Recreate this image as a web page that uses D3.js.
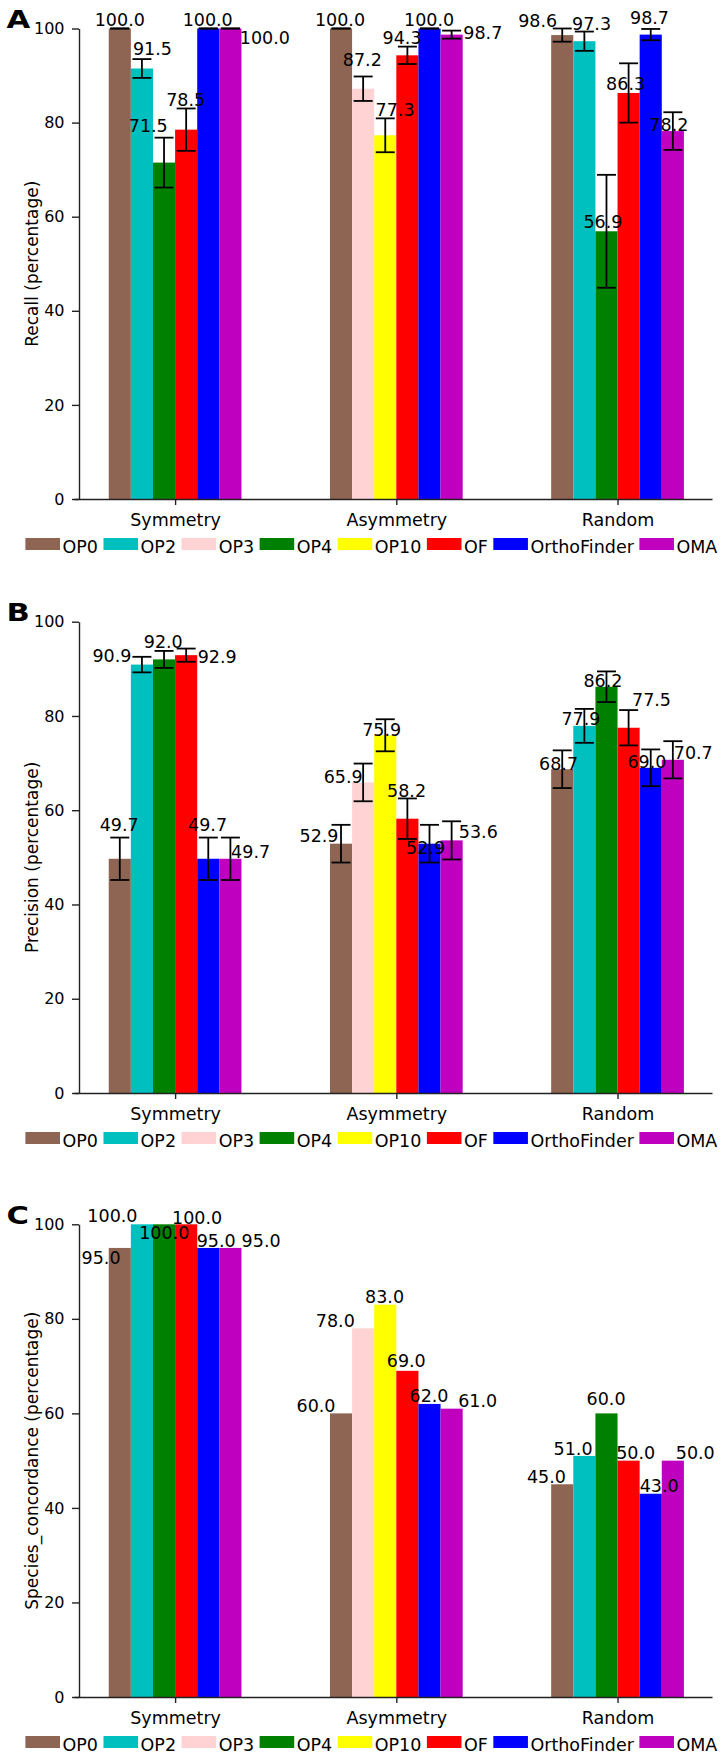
<!DOCTYPE html>
<html>
<head>
<meta charset="utf-8">
<script src="https://cdn.jsdelivr.net/npm/d3@7"></script>
<style>
  html, body { margin: 0; padding: 0; background: #fff; }
  svg { display: block; }
  text { font-family: "DejaVu Sans", Verdana, sans-serif; fill: #000; }
</style>
</head>
<body>
<svg id="chart" width="722" height="1754"></svg>
<script>
// ---------------- DATA ----------------
const categories = ["Symmetry", "Asymmetry", "Random"];
const seriesNames = ["OP0", "OP2", "OP3", "OP4", "OP10", "OF", "OrthoFinder", "OMA"];
const seriesColors = ["#8d6552", "#00bfbf", "#ffd3d3", "#008000", "#ffff00", "#ff0000", "#0000ff", "#bf00bf"];

// which series appear in each category (in drawing order)
const membersSymmetry  = ["OP0", "OP2", "OP4", "OF", "OrthoFinder", "OMA"];
const membersAsymmetry = ["OP0", "OP3", "OP10", "OF", "OrthoFinder", "OMA"];
const membersRandom    = ["OP0", "OP2", "OP4", "OF", "OrthoFinder", "OMA"];

// Panel A: Recall
const recallSymmetry  = [100.0, 91.5, 71.5, 78.5, 100.0, 100.0];
const recallAsymmetry = [100.0, 87.2, 77.3, 94.3, 100.0, 98.7];
const recallRandom    = [98.6, 97.3, 56.9, 86.3, 98.7, 78.2];
const recallErrSymmetry  = [0, 2.0, 5.3, 4.5, 0, 0];
const recallErrAsymmetry = [0, 2.6, 3.6, 1.85, 0, 0.85];
const recallErrRandom    = [1.4, 2.05, 12.0, 6.3, 1.2, 4.0];

// Panel B: Precision
const precisionSymmetry  = [49.7, 90.9, 92.0, 92.9, 49.7, 49.7];
const precisionAsymmetry = [52.9, 65.9, 75.9, 58.2, 52.9, 53.6];
const precisionRandom    = [68.7, 77.9, 86.2, 77.5, 69.0, 70.7];
const precisionErrSymmetry  = [4.5, 1.65, 1.8, 1.4, 4.5, 4.5];
const precisionErrAsymmetry = [4.0, 4.0, 3.4, 4.3, 4.0, 4.05];
const precisionErrRandom    = [4.0, 3.6, 3.25, 3.75, 3.9, 3.95];

// Panel C: Species concordance (no error bars)
const concordSymmetry  = [95.0, 100.0, 100.0, 100.0, 95.0, 95.0];
const concordAsymmetry = [60.0, 78.0, 83.0, 69.0, 62.0, 61.0];
const concordRandom    = [45.0, 51.0, 60.0, 50.0, 43.0, 50.0];

const yTicks = [0, 20, 40, 60, 80, 100];

// ---------------- LAYOUT (label nudges, px: [dx, dy] relative to bar centre / bar top) -------------
const nudgeA = [
  [[0, -2.8], [10.5, -13.5], [-15.8, -30.3], [-0.5, -23.7], [-0.6, -2.8], [34.5, 15.5]],
  [[-1, -2.8], [-0.8, -22.7], [9.8, -19.3], [-5.3, -11], [-0.4, -3], [31.2, 4.7]],
  [[-24.5, -7.8], [7.2, -11.2], [-3.5, -3], [-3, -3], [-1.2, -10.6], [-4, 0]]
];
const nudgeB = [
  [[-0.6, -28.1], [-30, -2.3], [-0.8, -11.1], [31, 7.5], [-0.7, -28.1], [20.2, -0.5]],
  [[-22, -2], [-20, 0.9], [-3.6, 0.4], [-0.8, -22], [-3.9, 10.3], [26.7, -2.1]],
  [[-3.7, 0.8], [-3.4, -0.9], [-3.5, 0], [22.9, -21.7], [-3.8, 0.5], [20.4, -0.5]]
];
const nudgeC = [
  [[-18.7, 16], [-29.5, -2.6], [0.2, 14.7], [10.9, -0.3], [7.9, -0.7], [30.7, -0.7]],
  [[-25, -1.7], [-27.8, -1.6], [-0.7, -1.4], [-1.1, -4.1], [-0.5, -1.6], [26, -1.3]],
  [[-15.8, -1], [-11.3, -0.9], [-0.4, -8.4], [7.1, -1.3], [8.5, -2], [22.4, -1.3]]
];

const panels = [
  { letter: "A", ylabel: "Recall (percentage)", top: 28.5, bottom: 499,
    values: [recallSymmetry, recallAsymmetry, recallRandom],
    errors: [recallErrSymmetry, recallErrAsymmetry, recallErrRandom], nudge: nudgeA },
  { letter: "B", ylabel: "Precision (percentage)", top: 621.7, bottom: 1093,
    values: [precisionSymmetry, precisionAsymmetry, precisionRandom],
    errors: [precisionErrSymmetry, precisionErrAsymmetry, precisionErrRandom], nudge: nudgeB },
  { letter: "C", ylabel: "Species_concordance (percentage)", top: 1224.3, bottom: 1697,
    values: [concordSymmetry, concordAsymmetry, concordRandom],
    errors: null, nudge: nudgeC }
];
const members = [membersSymmetry, membersAsymmetry, membersRandom];

// ---------------- DRAW ----------------
const svg = d3.select("#chart");
svg.append("rect").attr("width", 722).attr("height", 1754).attr("fill", "#fff");

const axisLeftX = 79;
const x = d3.scaleLinear().domain([-0.457, 2.427]).range([74, 712]);
const barW = 0.1;
const color = d3.scaleOrdinal().domain(seriesNames).range(seriesColors);
const capHalf = 9.5;

panels.forEach(p => {
  const g = svg.append("g");
  const y = d3.scaleLinear().domain([0, 100]).range([p.bottom, p.top]);

  // bars
  categories.forEach((cat, ci) => {
    const mem = members[ci];
    mem.forEach((s, j) => {
      const v = p.values[ci][j];
      const xl = x(ci + (j - mem.length / 2) * barW);
      const xr = x(ci + (j - mem.length / 2 + 1) * barW);
      g.append("rect")
        .attr("x", xl).attr("width", xr - xl)
        .attr("y", y(v)).attr("height", y(0) - y(v))
        .attr("fill", color(s));
    });
  });

  // error bars
  if (p.errors) {
    categories.forEach((cat, ci) => {
      const mem = members[ci];
      mem.forEach((s, j) => {
        const v = p.values[ci][j], e = p.errors[ci][j];
        const cx = x(ci + (j - mem.length / 2 + 0.5) * barW);
        const eg = g.append("g").attr("stroke", "#000").attr("stroke-width", 1.8);
        eg.append("line").attr("x1", cx).attr("x2", cx).attr("y1", y(v - e)).attr("y2", y(v + e));
        eg.append("line").attr("x1", cx - capHalf).attr("x2", cx + capHalf).attr("y1", y(v + e)).attr("y2", y(v + e));
        eg.append("line").attr("x1", cx - capHalf).attr("x2", cx + capHalf).attr("y1", y(v - e)).attr("y2", y(v - e));
      });
    });
  }

  // value labels
  categories.forEach((cat, ci) => {
    const mem = members[ci];
    mem.forEach((s, j) => {
      const v = p.values[ci][j];
      const cx = x(ci + (j - mem.length / 2 + 0.5) * barW);
      const [dx, dy] = p.nudge[ci][j];
      g.append("text")
        .attr("x", cx + dx).attr("y", y(v) + dy)
        .attr("text-anchor", "middle")
        .attr("font-size", 17.5)
        .text(d3.format(".1f")(v));
    });
  });

  // y axis
  const ya = g.append("g").attr("transform", `translate(${axisLeftX},0)`)
    .call(d3.axisLeft(y).tickValues(yTicks).tickFormat(d3.format("d")).tickSize(7).tickSizeOuter(0).tickPadding(7.5));
  ya.selectAll("path.domain").attr("stroke", "#222").attr("stroke-width", 1.4);
  ya.selectAll(".tick line").attr("stroke", "#222").attr("stroke-width", 1.4);
  ya.selectAll(".tick text").attr("font-size", 16).attr("font-family", "DejaVu Sans").attr("fill", "#000");

  // x axis
  const xa = g.append("g").attr("transform", `translate(0,${p.bottom})`)
    .call(d3.axisBottom(x).tickValues([0, 1, 2]).tickFormat(i => categories[i]).tickSize(6).tickSizeOuter(0));
  xa.selectAll("path.domain").attr("stroke", "#222").attr("stroke-width", 1.6);
  xa.selectAll(".tick line").attr("stroke", "#222").attr("stroke-width", 1.4);
  xa.selectAll(".tick text").attr("font-size", 17.5).attr("font-family", "DejaVu Sans")
    .attr("fill", "#000").attr("dy", null).attr("y", 27);

  // y label
  g.append("text")
    .attr("transform", `translate(37.7,${(p.top + p.bottom) / 2}) rotate(-90)`)
    .attr("text-anchor", "middle")
    .attr("font-size", 17)
    .text(p.ylabel);

  // panel letter
  g.append("text")
    .attr("transform", `translate(6.5,${p.top - 0.3}) scale(1.2,1)`)
    .attr("font-family", "Liberation Sans, Arial, sans-serif")
    .attr("font-weight", "bold")
    .attr("font-size", 25.5)
    .text(p.letter);

  // legend
  const lg = g.append("g").attr("transform", `translate(0,${p.bottom})`);
  let cursor = 25.4;
  seriesNames.forEach((s, i) => {
    lg.append("rect").attr("x", cursor).attr("y", 39).attr("width", 34.6).attr("height", 12)
      .attr("fill", color(s));
    cursor += 34.6 + 2.5;
    const t = lg.append("text").attr("x", cursor).attr("y", 53.5).attr("font-size", 17.5).text(s);
    cursor += t.node().getComputedTextLength() + 5.5;
  });
});
</script>
</body>
</html>
